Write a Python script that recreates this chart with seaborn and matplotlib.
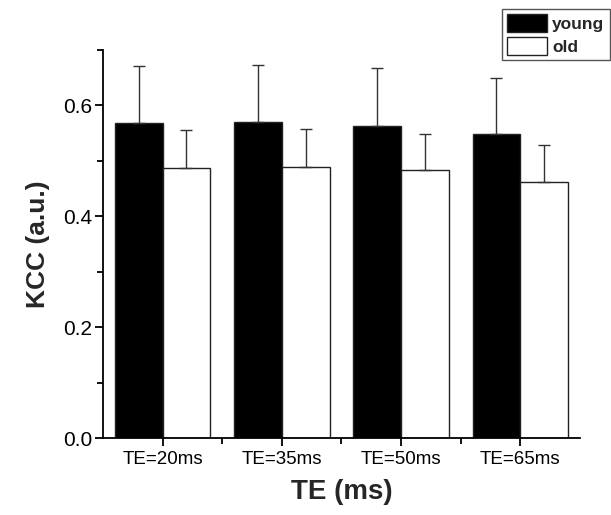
import matplotlib
matplotlib.use("Agg")
import matplotlib.pyplot as plt
from matplotlib.ticker import MultipleLocator
from matplotlib.patches import Patch
import numpy as np
import pandas as pd
import seaborn as sns

# 데이터
te_labels = ['TE=20ms', 'TE=35ms', 'TE=50ms', 'TE=65ms']
groups = ['young', 'old']
young_mean = [0.569, 0.570, 0.563, 0.549]
young_sd = [0.102, 0.102, 0.104, 0.101]
old_mean = [0.487, 0.488, 0.483, 0.462]
old_sd = [0.068, 0.070, 0.066, 0.067]

df = pd.DataFrame({
    'TE': te_labels * 2,
    'group': ['young'] * 4 + ['old'] * 4,
    'KCC': young_mean + old_mean,
})

sns.set_style('ticks')
plt.rcParams['font.family'] = ['Liberation Sans', 'DejaVu Sans']

fig = plt.figure(figsize=(6.11, 5.15), dpi=100)
ax = fig.add_axes([0.1686, 0.1495, 0.7806, 0.7535])

sns.barplot(data=df, x='TE', y='KCC', hue='group', hue_order=groups,
            palette={'young': 'black', 'old': 'white'},
            edgecolor='#222222', linewidth=1.0, errorbar=None,
            width=0.8, ax=ax, legend=False)

# 위쪽 에러바만
xs = np.arange(len(te_labels))
for off, m, s in [(-0.2, young_mean, young_sd), (0.2, old_mean, old_sd)]:
    ax.errorbar(xs + off, m, yerr=[np.zeros(len(m)), s], fmt='none',
                ecolor='#333333', elinewidth=1.0, capsize=4, capthick=1.0)

ax.set_xlim(-0.5, 3.5)
ax.set_ylim(0, 0.7)
ax.yaxis.set_major_locator(MultipleLocator(0.2))
ax.yaxis.set_minor_locator(MultipleLocator(0.1))
ax.set_xticks(xs)
ax.set_xticks(xs[:-1] + 0.5, minor=True)
ax.set_xticklabels(te_labels)

for sp in ['top', 'right']:
    ax.spines[sp].set_visible(False)
for sp in ['left', 'bottom']:
    ax.spines[sp].set_linewidth(1.3)
    ax.spines[sp].set_color('black')

ax.tick_params(axis='both', which='major', direction='out', length=6, width=1.3, colors='black')
ax.tick_params(axis='both', which='minor', direction='out', length=4, width=1.3, colors='black')
ax.tick_params(axis='y', labelsize=15, pad=2)
ax.tick_params(axis='x', labelsize=13.5, pad=3)

ax.set_xlabel('TE (ms)', fontsize=20, fontweight='bold', labelpad=8)
ax.set_ylabel('KCC (a.u.)', fontsize=19, fontweight='bold', labelpad=9)

# 범례 (오른쪽 위)
handles = [Patch(facecolor='black', edgecolor='#222222', label='young'),
           Patch(facecolor='white', edgecolor='#222222', label='old')]
leg = fig.legend(handles=handles, loc='upper left', bbox_to_anchor=(502 / 611, 1 - 9 / 515),
                 frameon=True, fancybox=False, edgecolor='#555555', framealpha=1,
                 prop={'weight': 'bold', 'size': 12.5}, handlelength=2.3, handleheight=1.2,
                 handletextpad=0.3, borderpad=0.3, labelspacing=0.3, borderaxespad=0)
leg.get_frame().set_linewidth(1.0)

fig.savefig('out.png', dpi=100)
